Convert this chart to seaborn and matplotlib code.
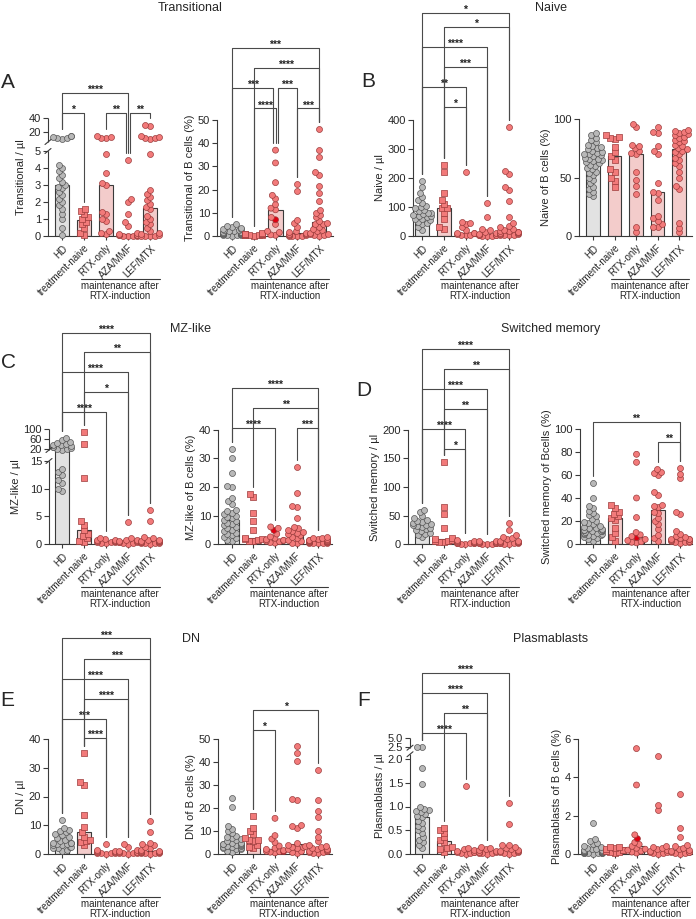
import warnings
import numpy as np
import pandas as pd
import matplotlib
matplotlib.use("Agg")
import matplotlib.pyplot as plt
from matplotlib.lines import Line2D
from matplotlib.colors import to_rgba
import seaborn as sns

warnings.filterwarnings("ignore")

# ==========================================
# Data
# ==========================================

groups = ["HD", "treatment-naive", "RTX-only", "AZA/MMF", "LEF/MTX"]

transitional_ul = [
    [0.05, 0.5, 1.0, 1.3, 1.6, 1.8, 2.0, 2.2, 2.4, 2.6, 2.8, 2.9, 3.0, 3.2, 3.4, 3.6, 3.8, 4.0, 4.2, 10, 11, 12, 13, 14, 15],
    [0.05, 0.2, 0.45, 0.7, 0.85, 1.0, 1.1, 1.3, 1.5, 1.6],
    [0.1, 0.15, 0.3, 0.9, 1.0, 1.3, 1.4, 3.0, 3.1, 3.7, 4.8, 11, 12, 13, 14],
    [0, 0, 0, 0.02, 0.03, 0.05, 0.05, 0.08, 0.1, 0.15, 0.6, 0.8, 1.3, 2.0, 2.2, 4.45],
    [0, 0, 0, 0.02, 0.05, 0.1, 0.2, 0.3, 0.5, 0.7, 0.8, 1.0, 1.2, 1.6, 1.7, 1.9, 2.1, 2.3, 2.5, 2.7, 4.8, 10, 11, 12, 13, 14, 28, 30],
]
transitional_pct = [
    [0.2, 0.3, 0.4, 0.5, 0.6, 0.7, 0.8, 0.9, 1.0, 1.0, 1.1, 1.2, 1.3, 1.4, 1.5, 1.6, 1.7, 1.8, 2.0, 2.2, 2.4, 2.6, 2.9, 3.2, 3.6, 4.0, 4.5, 5.0],
    [0.2, 0.3, 0.4, 0.5, 0.6, 0.6, 0.7, 0.8, 0.9, 1.0, 1.2],
    [0.3, 0.5, 1.5, 2, 5, 7, 8, 11.3, 12, 13.5, 16, 17.5, 23, 31.5, 37],
    [0.05, 0.1, 0.15, 0.2, 0.3, 0.5, 0.8, 1.0, 1.4, 1.6, 2.0, 4.0, 5.5, 7.0, 19.5, 22.5],
    [0.2, 0.3, 0.5, 0.8, 1.0, 1.5, 2.0, 2.5, 3.0, 4.0, 5.0, 5.3, 5.6, 6.5, 8, 9, 10, 11, 15, 18.5, 21.5, 26.5, 27.5, 34, 37, 46],
]
naive_ul = [
    [20, 30, 40, 45, 50, 55, 58, 60, 65, 68, 70, 72, 75, 78, 80, 85, 90, 95, 100, 105, 115, 125, 135, 150, 170, 188],
    [25, 32, 60, 80, 95, 97, 110, 125, 150, 220, 245],
    [2, 3, 5, 8, 10, 11, 12, 20, 30, 40, 45, 50, 220],
    [0.5, 1, 1, 2, 3, 4, 5, 7, 10, 15, 20, 25, 65, 115],
    [2, 3, 4, 5, 6, 8, 10, 12, 14, 15, 16, 18, 20, 25, 30, 35, 45, 65, 120, 160, 170, 215, 225, 375],
]
naive_pct = [
    [34, 36, 38, 40, 42, 45, 48, 50, 52, 54, 55, 57, 58, 60, 61, 62, 63, 64, 65, 66, 66, 67, 68, 69, 70, 70, 71, 72, 73, 74, 75, 76, 77, 78, 80, 82, 84, 86, 88],
    [42, 47, 50, 55, 57, 65, 68, 72, 76, 83, 84, 85, 86],
    [3, 8, 36, 43, 48, 55, 70, 71, 73, 75, 77, 78, 93, 96],
    [8, 8, 10, 13, 15, 17, 31, 37, 38, 45, 70, 73, 77, 88, 89, 93],
    [3, 7, 11, 40, 43, 50, 55, 60, 62, 65, 67, 70, 72, 73, 74, 75, 77, 78, 80, 81, 82, 84, 85, 86, 87, 88, 89, 90, 91],
]
mz_ul = [
    [9.5, 10, 11, 11.5, 12.5, 13, 13.5, 17, 20, 22, 25, 28, 30, 32, 35, 38, 40, 45, 50, 55, 65],
    [0.3, 0.5, 1.0, 1.5, 1.8, 2.5, 3.5, 4.2, 12, 40, 90],
    [0.1, 0.2, 0.3, 0.3, 0.4, 0.5, 0.5, 0.6, 0.7, 0.8, 0.9, 1.0],
    [0.05, 0.1, 0.2, 0.3, 0.3, 0.4, 0.5, 0.6, 0.7, 0.8, 1.0, 4.0],
    [0.05, 0.1, 0.1, 0.2, 0.2, 0.3, 0.3, 0.4, 0.5, 0.5, 0.6, 0.7, 0.8, 1.0, 1.2, 4.2, 6.1],
]
mz_pct = [
    [1, 1.5, 2, 2.5, 3, 3.5, 4, 4.5, 5, 5.5, 6, 6.5, 7, 7.5, 8, 8.5, 9, 9.5, 10, 10.5, 11, 11.5, 12, 14, 15, 16, 20, 20.5, 25, 30, 33.5],
    [1.0, 1.2, 1.5, 1.8, 1.9, 2.0, 5, 8, 11, 16.5, 17.5],
    [0.3, 0.5, 0.8, 1.0, 1.2, 1.3, 1.5, 2.0, 2.5, 3.5, 4.8, 5.5, 6.0],
    [0.3, 0.5, 1, 1.5, 2, 2.5, 3, 3.5, 4, 4.2, 4.5, 5, 5.5, 6, 9, 13, 13.5, 18, 27],
    [0.2, 0.3, 0.4, 0.5, 0.5, 0.6, 0.7, 0.8, 0.8, 0.9, 1.0, 1.0, 1.1, 1.2, 1.3, 1.4, 1.5, 1.6, 1.8, 2.0, 2.2, 2.3],
]
switched_ul = [
    [12, 15, 18, 20, 22, 24, 26, 28, 30, 32, 33, 34, 35, 36, 38, 40, 42, 45, 50, 57, 60],
    [3, 4, 5, 6, 7, 8, 10, 28, 53, 65, 143],
    [0.3, 0.5, 1, 1.5, 2, 2, 2.5, 3, 3, 4, 5, 6, 7],
    [0.2, 0.5, 0.8, 1, 1, 1.2, 1.5, 2, 3, 4, 5, 6],
    [0.5, 0.8, 1, 1.5, 2, 2.5, 3, 3, 3.5, 4, 5, 6, 8, 10, 12, 15, 25, 37],
]
switched_pct = [
    [3, 4, 5, 6, 7, 7.5, 8, 8.5, 9, 9.5, 10, 10.5, 11, 11, 11.5, 12, 12, 12.5, 13, 13.5, 14, 15, 16, 17, 18, 19, 20, 22, 24, 25, 27, 29, 31, 33, 40, 53],
    [3, 6, 10, 14, 21, 23, 24, 26.5, 28, 31, 33.5],
    [1, 1.5, 2, 3, 4, 5.5, 6.5, 8, 10, 23, 40, 71, 78],
    [3, 5, 8, 13, 17, 20, 23, 27, 28, 32, 33, 34, 43, 45, 60, 62, 63, 65],
    [1, 1.5, 2, 2, 2.5, 3, 3.5, 4, 4, 4.5, 5, 6, 7, 9, 11, 26, 28, 57, 61, 66],
]
dn_ul = [
    [1, 1.5, 2, 2, 2.5, 2.5, 3, 3, 3.5, 3.5, 3.8, 4, 4, 4.5, 5, 5.5, 6, 6.5, 7, 7.5, 8, 8.5, 9, 12],
    [3, 4.2, 4.5, 5, 6, 7.5, 9.5, 13.5, 24, 25, 35],
    [0.1, 0.2, 0.3, 0.4, 0.5, 0.6, 0.8, 1.0, 1.2, 1.5, 3.5],
    [0.1, 0.2, 0.3, 0.4, 0.5, 0.6, 0.8, 1.0, 1.5, 2.5, 3.5],
    [0.1, 0.2, 0.3, 0.4, 0.5, 0.6, 0.7, 0.8, 0.8, 0.9, 1.0, 1.5, 2, 2.5, 3, 3.5, 4, 7.5, 11.5],
]
dn_pct = [
    [1, 1.5, 2, 2, 2.5, 2.5, 3, 3, 3.5, 3.5, 4, 4, 4.5, 4.5, 4.5, 5, 5, 5.5, 6, 6.5, 7, 7.5, 8, 9, 10, 11, 12, 20.5, 24.5],
    [2.5, 3, 4, 5.5, 6, 6.1, 7, 8.5, 10, 11.5, 16.5],
    [0.5, 0.8, 1.0, 1.05, 1.2, 1.5, 2, 2.5, 3.5, 5, 6.5, 8, 15.5],
    [0.5, 1, 1.5, 2, 2.5, 3, 3.2, 3.5, 4, 5, 11.5, 12, 12.5, 23.5, 24, 40.5, 44, 47],
    [0.3, 0.5, 0.8, 1, 1.2, 1.5, 1.8, 2, 2.2, 2.5, 3, 3.5, 4, 5.5, 7.5, 10, 16, 18.5, 23.5, 36.5],
]
plasma_ul = [
    [0.12, 0.2, 0.25, 0.3, 0.35, 0.45, 0.5, 0.55, 0.6, 0.65, 0.7, 0.78, 0.8, 0.85, 0.88, 0.9, 0.92, 0.95, 1.0, 1.47, 1.82, 2.5, 2.5],
    [0.05, 0.1, 0.12, 0.15, 0.25, 0.3, 0.35, 0.45, 0.5, 0.55],
    [0.01, 0.02, 0.03, 0.04, 0.05, 0.05, 0.06, 0.08, 0.1, 0.12, 1.43],
    [0.01, 0.02, 0.02, 0.03, 0.04, 0.05, 0.06, 0.08, 0.1, 0.12, 0.14],
    [0.01, 0.02, 0.03, 0.04, 0.05, 0.06, 0.07, 0.08, 0.1, 0.12, 0.15, 0.18, 0.2, 0.63, 1.07],
]
plasma_pct = [
    [0.02, 0.03, 0.04, 0.05, 0.05, 0.06, 0.07, 0.08, 0.09, 0.1, 0.1, 0.11, 0.12, 0.13, 0.14, 0.15, 0.15, 0.16, 0.18, 0.2, 0.22, 0.25, 0.28, 0.3, 0.35, 0.4, 0.5, 0.6, 0.7, 0.8, 1.62],
    [0.05, 0.08, 0.1, 0.15, 0.2, 0.22, 0.25, 0.3, 0.35, 0.38],
    [0.05, 0.1, 0.15, 0.2, 0.25, 0.3, 0.4, 0.5, 0.6, 0.8, 1.0, 3.6, 5.5],
    [0.02, 0.04, 0.05, 0.08, 0.1, 0.15, 0.2, 0.25, 0.3, 0.35, 0.4, 2.3, 2.55, 5.1],
    [0.02, 0.04, 0.05, 0.08, 0.1, 0.12, 0.15, 0.2, 0.25, 0.3, 0.4, 0.45, 0.9, 1.35, 3.15],
]

# one RTX-only patient drawn in red in the % panels
red_rtx_transitional = 7
red_rtx_mz = 4.8
red_rtx_switched = 5.5
red_rtx_dn = 1.05
red_rtx_plasma = 0.8

# significance brackets: (group i, group j, stars, height in data units)
brackets_a1 = [(0, 3, "****", 75), (0, 1, "*", 47), (2, 3, "**", 47), (3, 4, "**", 47)]
brackets_a2 = [(0, 4, "***", 81), (1, 4, "****", 72.5), (0, 2, "***", 64), (2, 3, "***", 64),
               (1, 2, "****", 55), (3, 4, "***", 55)]
brackets_b1 = [(0, 4, "*", 769), (1, 4, "*", 721), (0, 3, "****", 652), (1, 3, "***", 583),
               (0, 2, "**", 514), (1, 2, "*", 445)]
brackets_c1 = [(0, 4, "****", 484), (1, 4, "**", 408), (0, 3, "****", 328), (1, 3, "*", 248),
               (0, 2, "****", 168)]
brackets_c2 = [(0, 4, "****", 54.7), (1, 4, "**", 47.7), (0, 2, "****", 40.7), (3, 4, "***", 40.7)]
brackets_d1 = [(0, 4, "****", 342), (1, 4, "**", 307), (0, 3, "****", 272), (1, 3, "**", 237),
               (0, 2, "****", 202), (1, 2, "*", 167)]
brackets_d2 = [(0, 4, "**", 106), (3, 4, "**", 88.7)]
brackets_e1 = [(0, 4, "***", 75), (1, 4, "***", 68), (0, 3, "****", 61), (1, 3, "****", 54),
               (0, 2, "***", 47), (1, 2, "****", 40.3)]
brackets_e2 = [(1, 4, "*", 62.6), (1, 2, "*", 53.9)]
brackets_f1 = [(0, 4, "****", 23), (0, 3, "****", 17.5), (1, 3, "**", 12), (0, 2, "****", 6.4)]

# ==========================================
# Style
# ==========================================

sns.set_theme(style="ticks")
plt.rcParams["font.family"] = ["Liberation Sans", "DejaVu Sans"]

axis_col = "#3a3a3a"
bar_cols = {"HD": "#e2e2e2"}
for g in groups[1:]:
    bar_cols[g] = "#fac6c4"
pt_gray = "#b8b8b8"
pt_gray_edge = "#555555"
pt_red = "#f27a7a"
pt_red_edge = "#9c3c3c"
pt_mark = "#e00012"
swarm_size = 2.8     # spacing used to arrange the swarm (points may overlap)
dot_size = 4.3       # drawn marker size

W, H = 696, 919
fig = plt.figure(figsize=(W / 100, H / 100), dpi=100)
swarm_colls = []


def piecewise(xp, fp):
    xp = np.asarray(xp, float)
    fp = np.asarray(fp, float)

    def make(a, b):
        s_lo = (b[1] - b[0]) / (a[1] - a[0])
        s_hi = (b[-1] - b[-2]) / (a[-1] - a[-2])

        def f(y):
            y = np.asarray(y, float)
            out = np.interp(y, a, b)
            out = np.where(y > a[-1], b[-1] + (y - a[-1]) * s_hi, out)
            out = np.where(y < a[0], b[0] + (y - a[0]) * s_lo, out)
            return out
        return f
    return make(xp, fp), make(fp, xp)


def draw_panel(p):
    ax_x, r_x, hd_x, lef_x, zero_y, top_y = p["px"]
    ax = fig.add_axes([ax_x / W, 1 - zero_y / H, (r_x - ax_x) / W, (zero_y - top_y) / H])
    vals = p["values"]
    df = pd.DataFrame({
        "group": np.repeat(groups, [len(v) for v in vals]),
        "value": np.concatenate([np.asarray(v, float) for v in vals]),
    })

    if p.get("brk") is not None:
        fwd, inv = piecewise(*p["brk"])
        ax.set_yscale("function", functions=(fwd, inv))

    sns.barplot(data=df, x="group", y="value", hue="group", order=groups, hue_order=groups,
                palette=bar_cols, estimator="median", errorbar=None, width=0.65,
                edgecolor=axis_col, linewidth=0.8, legend=False, ax=ax)

    for k, g in enumerate(groups):
        n0 = len(ax.collections)
        sns.swarmplot(data=df[df["group"] == g], x="group", y="value", order=groups,
                      marker="s" if k == 1 else "o",
                      color=pt_gray if k == 0 else pt_red,
                      edgecolor=pt_gray_edge if k == 0 else pt_red_edge,
                      linewidth=0.5, size=swarm_size, ax=ax)
        for c in ax.collections[n0:]:
            c.set_clip_on(False)
            c.set_zorder(3)
            swarm_colls.append(c)
            if k == 2 and p.get("mark") is not None and len(c.get_offsets()) == len(vals[2]):
                fc = np.tile(to_rgba(pt_red), (len(vals[2]), 1))
                fc[vals[2].index(p["mark"])] = to_rgba(pt_mark)
                c.set_facecolors(fc)

    sp = (lef_x - hd_x) / 4
    ax.set_xlim(-(hd_x - ax_x) / sp, 4 + (r_x - lef_x) / sp)
    ax.set_ylim(0, p["ylim"])
    ax.set_yticks(p["ticks"])
    ax.set_yticklabels(p["ticklabels"])
    ax.set_xticks(range(5))
    ax.set_xticklabels(groups, rotation=45, ha="right", rotation_mode="anchor", fontsize=7)
    ax.set_xlabel("")
    ax.set_ylabel(p["ylabel"], fontsize=8, labelpad=2)
    ax.tick_params(axis="y", length=3.5, width=0.8, color=axis_col, labelsize=8, pad=1.5)
    ax.tick_params(axis="x", length=3, width=0.8, color=axis_col, pad=2)
    sns.despine(ax=ax)
    for s in ["left", "bottom"]:
        ax.spines[s].set_color(axis_col)
        ax.spines[s].set_linewidth(0.8)

    # broken y axis
    if p.get("segs") is not None:
        ax.spines["left"].set_visible(False)
        ytr = ax.get_yaxis_transform()
        for a, b in p["segs"]:
            ax.plot([0, 0], [a, b], transform=ytr, color=axis_col, lw=0.8,
                    clip_on=False, solid_capstyle="butt")
        inv_fig = fig.transFigure.inverted()
        for y in [p["segs"][0][1], p["segs"][1][0]]:
            cx, cy = ytr.transform((0, y))
            p0 = inv_fig.transform((cx - 3, cy - 2.5))
            p1 = inv_fig.transform((cx + 3, cy + 2.5))
            fig.add_artist(Line2D([p0[0], p1[0]], [p0[1], p1[1]], color=axis_col, lw=0.8))

    # maintenance label under the last three groups
    h_px = zero_y - top_y
    xtr = ax.get_xaxis_transform()
    ax.plot([0.85, 4.45], [-43 / h_px] * 2, transform=xtr, color=axis_col, lw=0.8, clip_on=False)
    ax.text(2.65, -45 / h_px, "maintenance after\nRTX-induction", transform=xtr,
            ha="center", va="top", fontsize=7, linespacing=1.0)

    # significance brackets
    brs = p.get("brackets", [])
    inv_data = ax.transData.inverted()
    for n, (i, j, stars, lev) in enumerate(brs):
        xi, xj = float(i), float(j)
        for m, (i2, j2, _, lev2) in enumerate(brs):
            if m != n and lev2 == lev:
                if i2 == j:
                    xj -= 0.1
                if j2 == i:
                    xi += 0.1
        ends = []
        for g in (i, j):
            top_disp = ax.transData.transform((g, max(vals[g])))[1] + 7
            yend = inv_data.transform((0, top_disp))[1]
            ends.append(min(yend, lev))
        ax.plot([xi, xi, xj, xj], [ends[0], lev, lev, ends[1]], color="#4a4a4a",
                lw=0.8, clip_on=False, zorder=4)
        ax.text((xi + xj) / 2, lev, stars, ha="center", va="baseline", fontsize=7.5,
                fontweight="bold", color="#222222", clip_on=False)
    return ax


def int_labels(t):
    return [f"{v:g}" for v in t]


panels = [
    dict(px=(48, 160, 62, 150, 236, 118), values=transitional_ul, ylabel="Transitional / µl",
         ylim=40, ticks=[0, 1, 2, 3, 4, 5, 20, 40], brk=([0, 5, 6, 40], [0, 85, 94, 118]),
         segs=[(0, 5), (6, 40)], brackets=brackets_a1),
    dict(px=(217, 333, 232, 319, 236, 120), values=transitional_pct,
         ylabel="Transitional of B cells (%)", ylim=50, ticks=[0, 10, 20, 30, 40, 50],
         brackets=brackets_a2, mark=red_rtx_transitional),
    dict(px=(413, 520, 422, 509, 236, 120), values=naive_ul, ylabel="Naive / µl",
         ylim=400, ticks=[0, 100, 200, 300, 400], brackets=brackets_b1),
    dict(px=(579, 692, 593, 679, 236, 119), values=naive_pct, ylabel="Naive of B cells (%)",
         ylim=100, ticks=[0, 50, 100]),
    dict(px=(49, 160, 62, 150, 544, 429), values=mz_ul, ylabel="MZ-like / µl",
         ylim=100, ticks=[0, 5, 10, 15, 20, 60, 100], brk=([0, 15, 16, 100], [0, 83, 94, 115]),
         segs=[(0, 15), (16, 100)], brackets=brackets_c1),
    dict(px=(218, 332, 232, 318, 544, 430), values=mz_pct, ylabel="MZ-like of B cells (%)",
         ylim=40, ticks=[0, 10, 20, 30, 40], brackets=brackets_c2, mark=red_rtx_mz),
    dict(px=(408, 520, 422, 509, 544, 430), values=switched_ul, ylabel="Switched memory / µl",
         ylim=200, ticks=[0, 50, 100, 150, 200], brackets=brackets_d1),
    dict(px=(580, 692, 593, 680, 544, 429), values=switched_pct,
         ylabel="Switched memory of Bcells (%)", ylim=100, ticks=[0, 20, 40, 60, 80, 100],
         brackets=brackets_d2, mark=red_rtx_switched),
    dict(px=(48, 160, 62, 150, 854, 739), values=dn_ul, ylabel="DN / µl",
         ylim=40, ticks=[0, 10, 20, 30, 40], brackets=brackets_e1),
    dict(px=(218, 332, 232, 318, 854, 739), values=dn_pct, ylabel="DN of B cells (%)",
         ylim=50, ticks=[0, 10, 20, 30, 40, 50], brackets=brackets_e2, mark=red_rtx_dn),
    dict(px=(410, 520, 422, 509, 854, 738), values=plasma_ul, ylabel="Plasmablasts / µl",
         ylim=5, ticks=[0, 0.5, 1.0, 1.5, 2.0, 2.5, 5.0],
         ticklabels=["0.0", "0.5", "1.0", "1.5", "2.0", "2.5", "5.0"],
         brk=([0, 2.1, 2.3, 5.0], [0, 99.75, 106.3, 116]), segs=[(0, 2.1), (2.3, 5.0)],
         brackets=brackets_f1),
    dict(px=(578, 692, 593, 680, 854, 739), values=plasma_pct,
         ylabel="Plasmablasts of B cells (%)", ylim=6, ticks=[0, 2, 4, 6], mark=red_rtx_plasma),
]

for p in panels:
    if "ticklabels" not in p:
        p["ticklabels"] = int_labels(p["ticks"])
    draw_panel(p)

# titles and panel letters
titles = [(190, 8, "Transitional"), (551, 8, "Naive"), (190, 329, "MZ-like"),
          (551, 329, "Switched memory"), (191, 639, "DN"), (551, 639, "Plasmablasts")]
for x, y, t in titles:
    fig.text(x / W, 1 - y / H, t, ha="center", va="center", fontsize=9)

letters = [(8, 83, "A"), (368, 82, "B"), (8, 363, "C"), (364, 390, "D"), (7, 700, "E"), (364, 700, "F")]
for x, y, t in letters:
    fig.text(x / W, 1 - y / H, t, ha="center", va="center", fontsize=15)

# arrange the swarms with a tight spacing, then freeze them and draw larger dots
fig.canvas.draw()
for c in swarm_colls:
    if "draw" in c.__dict__:
        del c.draw
    c.set_sizes([dot_size ** 2])

fig.savefig("out.png", dpi=100)
